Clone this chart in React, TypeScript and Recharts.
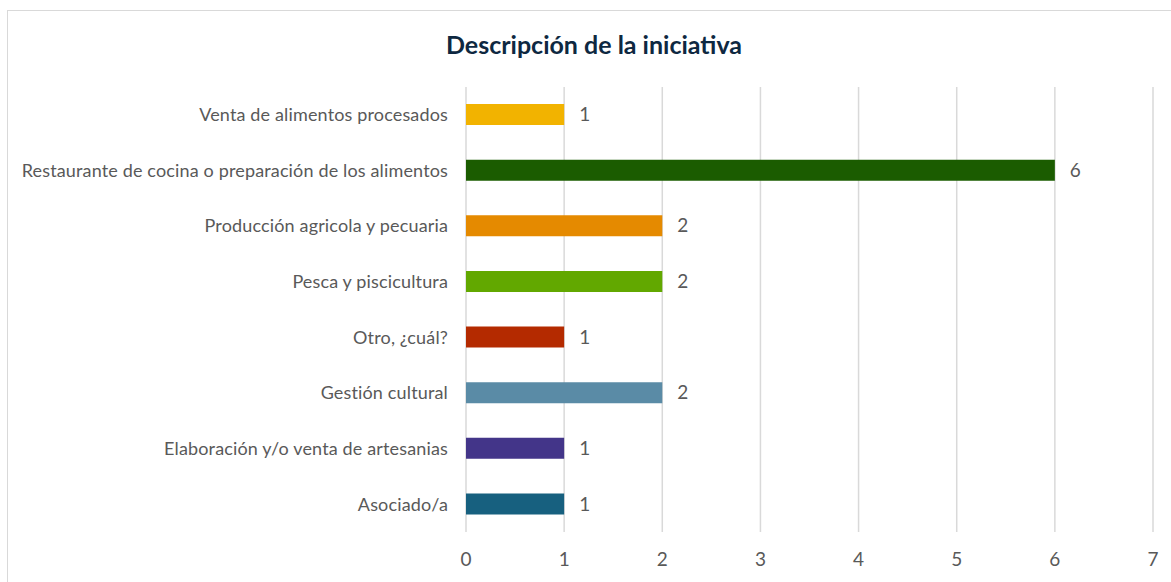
import { BarChart, Bar, XAxis, YAxis, CartesianGrid, Cell, LabelList } from 'recharts';

const categories = [
  'Venta de alimentos procesados',
  'Restaurante de cocina o preparación de los alimentos',
  'Producción agricola y pecuaria',
  'Pesca y piscicultura',
  'Otro, ¿cuál?',
  'Gestión cultural',
  'Elaboración y/o venta de artesanias',
  'Asociado/a',
];
const counts = [1, 6, 2, 2, 1, 2, 1, 1];
const xTicks = [0, 1, 2, 3, 4, 5, 6, 7];

const barColors = ['#F2B300', '#1B5C00', '#E58A00', '#62A800', '#B42A00', '#5A8BA6', '#433589', '#17607F'];

const data = categories.map((name, i) => ({ name, value: counts[i] }));

const FONT = 'Lato, "Open Sans", sans-serif';

export default function App() {
  return (
    <div
      style={{
        position: 'absolute',
        left: 7,
        top: 10,
        width: 1164,
        height: 572,
        boxSizing: 'border-box',
        borderTop: '1px solid #d9d9d9',
        borderLeft: '1px solid #d9d9d9',
        background: '#fff',
        fontFamily: FONT,
      }}
    >
      <div
        style={{
          position: 'absolute',
          left: 0,
          top: 18,
          width: 1172,
          textAlign: 'center',
          fontSize: 25,
          fontWeight: 700,
          color: '#0E2841',
        }}
      >
        Descripción de la iniciativa
      </div>
      <BarChart
        width={1163}
        height={571}
        data={data}
        layout="vertical"
        margin={{ top: 76, right: 18, bottom: 20, left: 0 }}
      >
        <CartesianGrid horizontal={false} stroke="#d9d9d9" strokeWidth={1.5} />
        <XAxis
          type="number"
          domain={[0, 7]}
          ticks={xTicks}
          axisLine={false}
          tickLine={false}
          tickSize={0}
          tickMargin={21}
          height={30}
          tick={{ fill: '#595959', fontSize: 19, fontFamily: FONT }}
        />
        <YAxis
          type="category"
          dataKey="name"
          width={458}
          axisLine={false}
          tickLine={false}
          tickSize={0}
          tickMargin={18}
          interval={0}
          tick={{ fill: '#595959', fontSize: 18, fontFamily: FONT, letterSpacing: 0.15 }}
        />
        <Bar dataKey="value" barSize={21} isAnimationActive={false}>
          {data.map((d, i) => (
            <Cell key={d.name} fill={barColors[i]} />
          ))}
          <LabelList
            dataKey="value"
            position="right"
            offset={15}
            fill="#595959"
            fontSize={19}
            fontFamily={FONT}
          />
        </Bar>
      </BarChart>
    </div>
  );
}
